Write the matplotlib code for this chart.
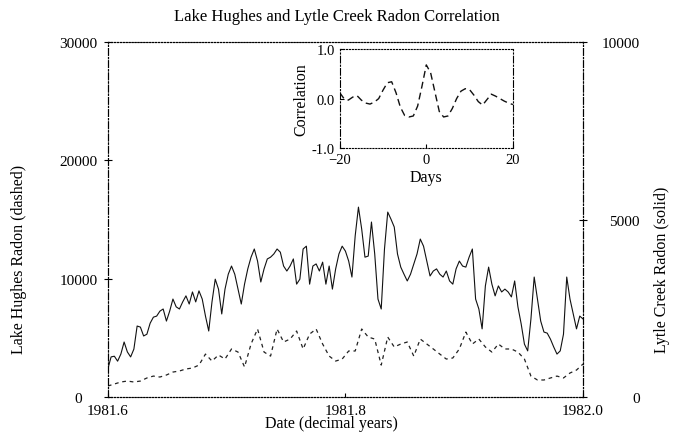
import numpy as np
import matplotlib
matplotlib.use("Agg")
import matplotlib.pyplot as plt

plt.rcParams.update({
    "font.family": ["Liberation Serif", "DejaVu Serif"],
    "font.size": 11,
    "axes.linewidth": 0.8,
})

# ── data ──
# Lytle Creek radon, daily from 1981.6 (right axis, solid)
lytle_days = np.arange(0, 147)
lytle = [
    790, 1130, 1150, 1010, 1210, 1550, 1270, 1130, 1350, 2000,
    1970, 1720, 1770, 2080, 2250, 2280, 2420, 2480, 2140, 2420,
    2760, 2540, 2480, 2680, 2850, 2620, 2960, 2680, 2990, 2760,
    2280, 1860, 2680, 3320, 3040, 2340, 3040, 3460, 3690, 3460,
    3040, 2620, 3180, 3610, 3940, 4170, 3830, 3240, 3610, 3890,
    3940, 4030, 4170, 4080, 3690, 3550, 3690, 3890, 3180, 3320,
    4170, 4250, 3180, 3690, 3750, 3550, 3800, 3180, 3690, 3040,
    3610, 4030, 4250, 4110, 3830, 3380, 4540, 5350, 4730, 3940,
    3970, 4930, 4030, 2760, 2480, 4170, 5210, 5010, 4790, 4030,
    3660, 3460, 3270, 3460, 3750, 4030, 4450, 4250, 3830, 3410,
    3550, 3610, 3460, 3380, 3550, 3270, 3180, 3610, 3830, 3690,
    3660, 3940, 4170, 2760, 2480, 1920, 3130, 3660, 3180, 2850,
    3130, 2960, 3040, 2960, 2820, 3270, 2540, 2060, 1490, 1300,
    2200, 3380, 2760, 2140, 1830, 1800, 1630, 1410, 1210, 1300,
    1770, 3380, 2760, 2340, 1920, 2280, 2200,
]

# Lake Hughes radon, every 2 days from 1981.6 (left axis, dashed)
hughes_days = np.arange(0, 147, 2)
hughes = [
    930, 1100, 1270, 1350, 1270, 1350, 1610, 1770, 1690, 1860,
    2110, 2200, 2370, 2450, 2700, 3630, 3040, 3550, 3210, 4060,
    3800, 2540, 4480, 5750, 3800, 3460, 5750, 4650, 4900, 5580,
    4060, 5320, 5750, 4480, 3460, 3040, 3210, 3890, 3890, 5750,
    5070, 4900, 2700, 5070, 4230, 4480, 4650, 3460, 4900, 4480,
    4060, 3630, 3210, 3300, 4060, 5490, 4480, 4900, 4230, 3800,
    4480, 4060, 4060, 3800, 3210, 1770, 1440, 1440, 1610, 1770,
    1610, 2030, 2280, 2790,
]

# cross-correlation vs lag (days)
lags = np.arange(-20, 21)
corr = [
    0.12, 0.00, -0.03, 0.03, 0.06, -0.03, -0.09, -0.11, -0.07, 0.00,
    0.17, 0.32, 0.34, 0.12, -0.17, -0.34, -0.37, -0.35, -0.15, 0.25,
    0.68, 0.52, 0.13, -0.26, -0.37, -0.35, -0.20, 0.00, 0.15, 0.20,
    0.18, 0.07, -0.06, -0.13, -0.02, 0.09, 0.05, 0.00, -0.05, -0.09,
    -0.12,
]

x_ticks = [1981.6, 1981.8, 1982.0]
x_labels = ["1981.6", "1981.8", "1982.0"]
left_ticks = [0, 10000, 20000, 30000]
right_ticks = [0, 5000, 10000]


def to_year(days):
    return 1981.6 + np.asarray(days) / 365.0


fig = plt.figure(figsize=(6.74, 4.35), dpi=100)
ax = fig.add_axes([0.160, 0.085, 0.705, 0.816])
ax2 = ax.twinx()

ax.plot(to_year(hughes_days), hughes, color="#222222", lw=0.9,
        ls=(0, (3, 3)))
ax2.plot(to_year(lytle_days), lytle, color="#111111", lw=0.8)

ax.set_xlim(1981.6, 1982.0)
ax.set_ylim(0, 30000)
ax2.set_ylim(0, 10000)
ax.set_xticks(x_ticks)
ax.set_xticklabels(x_labels)
ax.set_yticks(left_ticks)
ax2.set_yticks(right_ticks)

for a in (ax, ax2):
    for side in ("top", "bottom"):
        a.spines[side].set_linestyle(":")
    for side in ("left", "right"):
        a.spines[side].set_linestyle((0, (6, 2, 1, 2)))

ax.tick_params(axis="y", direction="inout", length=6, pad=18)
for lab in ax.get_yticklabels():
    lab.set_horizontalalignment("center")
ax2.tick_params(axis="y", direction="inout", length=6, pad=38)
for lab in ax2.get_yticklabels():
    lab.set_horizontalalignment("right")
ax.tick_params(axis="x", direction="in", length=3, pad=5)

ax.set_xlabel("Date (decimal years)", fontsize=11.5)
ax.xaxis.set_label_coords(0.47, -0.052)
ax.set_ylabel("Lake Hughes Radon (dashed)", fontsize=11.5)
ax.yaxis.set_label_coords(-0.17, 0.39)
ax2.set_ylabel("Lytle Creek Radon (solid)", rotation=90, fontsize=11.5)
ax2.yaxis.set_label_coords(1.15, 0.36)

fig.text(0.50, 0.96, "Lake Hughes and Lytle Creek Radon Correlation",
         ha="center", va="center", fontsize=12)

# ── inset: correlation ──
axi = fig.add_axes([0.504, 0.657, 0.257, 0.228])
axi.plot(lags, corr, color="#111111", lw=1.0, ls=(0, (5, 3)))
axi.set_xlim(-20, 20)
axi.set_ylim(-1.0, 1.0)
axi.set_xticks([-20, 0, 20])
axi.set_yticks([-1.0, 0.0, 1.0])
axi.set_yticklabels(["-1.0", "0.0", "1.0"])
axi.tick_params(direction="in", length=3, labelsize=10.5)
for side in ("top", "bottom"):
    axi.spines[side].set_linestyle(":")
for side in ("left", "right"):
    axi.spines[side].set_linestyle((0, (6, 2, 1, 2)))
axi.set_xlabel("Days", labelpad=2, fontsize=11.5)
axi.set_ylabel("Correlation", labelpad=2, fontsize=11.5)

fig.savefig("out.png", dpi=100)
